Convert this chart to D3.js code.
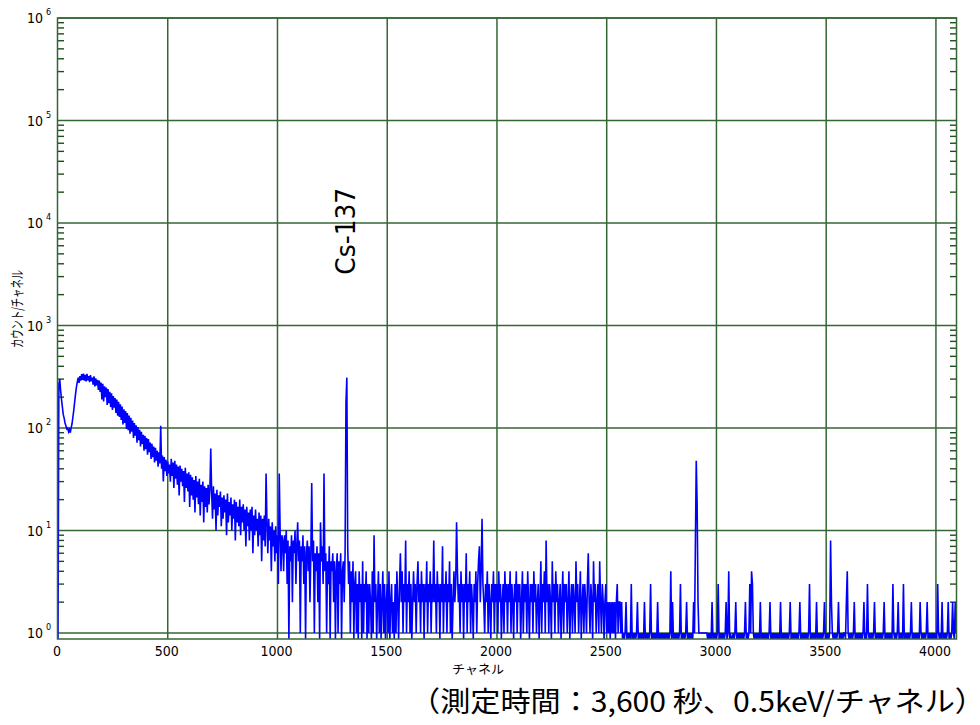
<!DOCTYPE html>
<html>
<head>
<meta charset="utf-8">
<script src="https://cdn.jsdelivr.net/npm/d3@7"></script>
<style>
  html, body { margin: 0; padding: 0; background: #ffffff; }
  svg { display: block; }
</style>
</head>
<body>
<svg id="chart" width="980" height="725"></svg>
<script>
// ---------------- DATA ----------------
const xTickValues = [0, 500, 1000, 1500, 2000, 2500, 3000, 3500, 4000];
const yDecadeExponents = [0, 1, 2, 3, 4, 5, 6];
const yMinorMultipliers = [2, 3, 4, 5, 6, 7, 8, 9];

const channelStep = 4;
const countsCh0000 = [0,270,300,230,190,160,135,125,112,105,
  98,100,92,97,90,101,110,128,150,180,
  215,250,282,310,275,320,290,335,295,340,
  290,330,285,338,292,320,280,328,286,310,
  265,320,255,305,260,295,235,290,225,278,
  190,270,182,255,200,248,168,240,175,226,
  160,218,150,205,158,196,140,190,132,180,
  128,170,120,162,108,152,112,146,98,140,
  95,132,88,126,92,118,80,112,84,106,
  72,102,76,96,66,92,70,86,60,84,
  62,80,55,78,58,72,50,70,52,66,
  46,64,48,60,42,58,45,105,40,54,
  30,52,38,49,34,47,36,44];
const countsCh0512 = [30,50,34,46,26,48,32,44,28,42,
  22,43,30,40,27,38,19,41,26,36,
  24,37,17,35,22,33,20,31,15,34,
  21,30,18,32,14,28,19,30,12,27,
  17,26,15,28,18,25,63,24,13,27,
  16,23,10,25,14,22,17,24,11,21,
  13,22,15,20,9,23,12,19,14,21,
  10,18,13,20,8,19,12,17,11,20,
  9,17,12,18,10,16,7,17,11,15,
  8,16,10,17,6,14,9,16,10,13,
  7,15,9,14,5,13,8,14,7,36,
  12,6,13,8,11,4,12,7,10,5,
  11,6,9,3,36,10,4,9];
const countsCh1024 = [8,4,9,6,10,3,8,0,7,5,9,2,8,6,10,3,7,12,5,8,1,7,5,9,3,7,0,6,8,4,7,2,6,29,5,8,1,6,4,7,2,6,0,12,5,7,3,36,4,6,1,5,3,7,0,5,4,6,2,5,0,4,6,1,5,3,6,0,4,5,2,6,175,310,7,3,5,1,4,2,5,0,3,4,1,3,0,4,2,3,0,5,1,3,2,4,0,3,1,3,2,0,4,1,9,2,3,0,2,4,1,3,0,2,4,1,3,0,2,3,1,4,0,2,3,1,2,0];
const countsCh1536 = [3,1,4,2,0,3,6,2,4,1,3,2,8,1,3,2,4,1,3,0,2,4,2,3,1,3,5,2,3,1,4,2,3,0,3,2,5,1,3,2,4,1,3,2,8,2,3,1,4,2,3,0,3,2,7,1,3,2,4,1,3,2,5,1,3,0,2,4,2,3,12,4,2,3,1,4,2,3,0,3,2,6,1,3,2,4,1,3,2,0,3,2,4,1,3,5,7,2,4,13,3,2,1,3,2,4,1,3,2,0,3,2,4,1,3,2,3,1,4,2,3,0,2,3,1,4,2,3];
const countsCh2048 = [1,3,2,4,1,3,2,0,3,2,4,1,3,2,3,0,2,4,1,3,2,3,1,4,2,0,3,2,3,1,4,2,3,1,2,3,0,2,5,1,3,2,4,1,8,2,3,1,3,2,0,5,2,3,1,4,2,3,1,2,3,0,2,4,1,3,2,3,1,2,4,0,2,3,1,3,2,1,5,2,3,1,2,4,0,2,3,1,3,2,1,3,6,2,1,3,2,0,5,2,3,1,2,3,1,5,2,1,3,2,0,2,3,1,2,1,2,0,2,1,2,1,2,0,2,3,1,2];
const countsCh2560 = [2,1,2,0,1,0,1,2,0,1,
  0,1,0,3,0,1,0,1,0,1,
  2,0,1,0,1,0,1,0,2,0,
  1,0,1,0,1,3,0,1,0,1,
  0,1,0,2,0,1,0,1,0,1,
  0,1,0,1,0,1,0,1,4,0,
  2,0,1,0,1,0,1,0,1,3,
  0,1,0,1,0,1,2,0,1,0,
  1,0,1,0,2,1,7,48,18,2,
  1,1,1,1,1,1,1,1,1,1,
  0,1,0,1,0,2,0,1,0,1,
  0,1,3,0,1,0,1,0,1,0,
  1,2,0,1,4,0,1,0];
const countsCh3072 = [0,1,0,1,2,0,1,0,1,0,
  1,0,1,0,1,2,0,1,0,1,
  3,1,4,3,1,0,1,0,1,0,
  1,0,2,0,1,0,1,0,1,0,
  1,0,1,2,0,1,0,1,0,1,
  0,1,0,1,0,2,0,1,0,1,
  0,1,0,1,0,1,2,0,1,0,
  1,0,1,0,1,0,1,2,0,1,
  0,1,0,1,0,1,0,1,3,0,
  1,0,1,0,1,0,2,0,1,0,
  1,0,1,0,1,2,0,1,0,1,
  0,1,8,2,1,0,1,0,1,0,
  1,2,0,1,0,1,0,1];
const countsCh3584 = [1,0,2,4,1,0,1,0,1,0,
  1,2,0,1,0,1,0,1,0,1,
  0,1,2,0,1,0,3,1,0,1,
  0,1,0,1,2,0,1,0,1,0,
  1,0,1,0,1,2,0,1,0,1,
  0,1,0,1,0,3,1,0,1,0,
  1,2,0,1,0,1,0,3,0,1,
  0,1,0,1,0,1,2,0,1,0,
  1,0,1,0,1,0,2,1,0,1,
  0,1,0,1,2,0,1,0,1,0,
  1,0,1,0,1,0,3,1,0,1,
  0,2,0,1,0,1,0,1,2,0,
  1,0,1,2,1,0,2,1];

const segments = [
  { start: 0,    counts: countsCh0000 },
  { start: 512,  counts: countsCh0512 },
  { start: 1024, counts: countsCh1024 },
  { start: 1536, counts: countsCh1536 },
  { start: 2048, counts: countsCh2048 },
  { start: 2560, counts: countsCh2560 },
  { start: 3072, counts: countsCh3072 },
  { start: 3584, counts: countsCh3584 }
];

const peakLabel = "Cs-137";
const peakLabelChannel = 1316;
const peakLabelCount = 8300;
const xAxisTitle = "チャネル";
const yAxisTitle = "カウント/チャネル";
const caption = "（測定時間：3,600 秒、0.5keV/チャネル）";

// ---------------- DRAW ----------------
const svg = d3.select("#chart");
const L = 58, R = 957, T = 18, B = 639;
const gridColor = "#346634";
const tickColor = "#1d4d1d";
const numFont = "'Liberation Sans Narrow','DejaVu Sans Condensed','Arial Narrow',sans-serif";
const jpFont = "'Noto Sans CJK JP','Noto Sans CJK SC',sans-serif";

const x = d3.scaleLinear().domain([0, 4096]).range([L, R]);
const y = d3.scaleLog().domain([1, 1e6]).range([633, T]);

const data = segments.flatMap(s => s.counts.map((v, i) => ({ ch: s.start + i * channelStep, v })));

svg.append("defs").append("clipPath").attr("id", "plotClip")
  .append("rect").attr("x", L).attr("y", T).attr("width", R - L).attr("height", B - T);

// grid
const grid = svg.append("g");
grid.selectAll("line.vg").data(xTickValues.filter(v => v > 0)).join("line")
  .attr("x1", d => x(d)).attr("x2", d => x(d)).attr("y1", T).attr("y2", B)
  .attr("stroke", gridColor).attr("stroke-width", 1.5);
grid.selectAll("line.hg").data(yDecadeExponents).join("line")
  .attr("x1", L).attr("x2", R).attr("y1", d => y(Math.pow(10, d))).attr("y2", d => y(Math.pow(10, d)))
  .attr("stroke", gridColor).attr("stroke-width", 1.5);

// minor ticks on both sides
const minors = [];
yDecadeExponents.slice(0, -1).forEach(e => yMinorMultipliers.forEach(m => minors.push(m * Math.pow(10, e))));
grid.selectAll("line.ml").data(minors).join("line")
  .attr("x1", L).attr("x2", L + 6).attr("y1", d => y(d)).attr("y2", d => y(d))
  .attr("stroke", tickColor).attr("stroke-width", 1.4);
grid.selectAll("line.mr").data(minors).join("line")
  .attr("x1", R - 7).attr("x2", R).attr("y1", d => y(d)).attr("y2", d => y(d))
  .attr("stroke", tickColor).attr("stroke-width", 1.4);

// spectrum
const line = d3.line()
  .x(d => x(d.ch))
  .y(d => d.v > 0 ? y(d.v) : B);
svg.append("path").datum(data)
  .attr("clip-path", "url(#plotClip)")
  .attr("fill", "none").attr("stroke", "#0000ff").attr("stroke-width", 1.6)
  .attr("stroke-linejoin", "miter")
  .attr("d", line);

// frame
svg.append("rect").attr("x", L - 0.5).attr("y", T).attr("width", R - L).attr("height", B - T)
  .attr("fill", "none").attr("stroke", gridColor).attr("stroke-width", 1.5);

// x tick labels
svg.selectAll("text.xt").data(xTickValues).join("text")
  .attr("x", d => x(d) - 1).attr("y", 656)
  .attr("text-anchor", "middle").attr("font-family", numFont).attr("font-size", 14)
  .attr("fill", "#000").text(d => d);

// y tick labels 10^n
const yl = svg.selectAll("g.yt").data(yDecadeExponents).join("g");
yl.append("text").attr("x", 43).attr("y", d => y(Math.pow(10, d)) + 5)
  .attr("text-anchor", "end").attr("font-family", numFont).attr("font-size", 14)
  .attr("fill", "#000").text("10");
yl.append("text").attr("x", 46).attr("y", d => y(Math.pow(10, d)) - 3)
  .attr("font-family", numFont).attr("font-size", 9)
  .attr("fill", "#000").text(d => d);

// axis titles
svg.append("text").attr("x", 478).attr("y", 674)
  .attr("text-anchor", "middle").attr("font-family", jpFont).attr("font-size", 12)
  .attr("textLength", 52).attr("lengthAdjust", "spacingAndGlyphs")
  .attr("fill", "#000").text(xAxisTitle);
svg.append("text").attr("transform", "translate(22,309) rotate(-90)")
  .attr("text-anchor", "middle").attr("font-family", jpFont).attr("font-size", 14)
  .attr("textLength", 78).attr("lengthAdjust", "spacingAndGlyphs")
  .attr("fill", "#000").text(yAxisTitle);

// peak label
svg.append("text")
  .attr("transform", `translate(${x(peakLabelChannel) + 8},${y(peakLabelCount)}) rotate(-90)`)
  .attr("text-anchor", "middle").attr("font-family", numFont).attr("font-size", 27)
  .attr("textLength", 87).attr("lengthAdjust", "spacingAndGlyphs")
  .attr("fill", "#000").text(peakLabel);

// caption
svg.append("text").attr("x", 410).attr("y", 712)
  .attr("font-family", jpFont).attr("font-size", 28)
  .attr("textLength", 575).attr("lengthAdjust", "spacingAndGlyphs")
  .attr("fill", "#000").text(caption);
</script>
</body>
</html>
